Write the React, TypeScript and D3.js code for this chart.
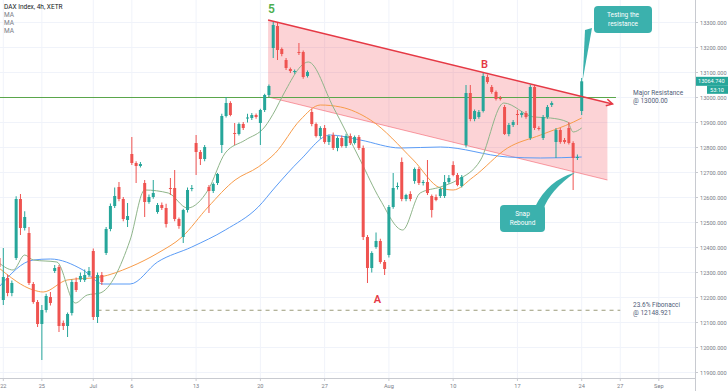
import * as d3 from "d3";

// DAX 4h candles, index 0 = first bar of Mon 22 Jun (index -1 = last bar of 19 Jun)
const open = [12358, 12190, 12278, 12218, 12358, 12594, 12478, 12458, 12254, 12182, 12094, 12150, 12202, 12306, 12322, 12098, 12086, 12138, 12262, 12272, 12270, 12290, 12386, 12122, 12290, 12378, 12474, 12566, 12642, 12594, 12510, 12774, 12738, 12726, 12658, 12582, 12602, 12542, 12570, 12558, 12638, 12638, 12514, 12442, 12550, 12634, 12818, 12782, 12754, 12642, 12626, 12658, 12810, 12926, 12978, 12858, 12854, 12894, 12916, 12918, 12930, 12898, 12950, 13010, 13198, 13286, 13194, 13150, 13114, 13102, 13182, 13182, 13086, 12942, 12894, 12846, 12878, 12822, 12850, 12798, 12838, 12806, 12846, 12818, 12842, 12798, 12442, 12318, 12402, 12426, 12342, 12370, 12562, 12642, 12742, 12594, 12614, 12666, 12714, 12658, 12662, 12606, 12602, 12606, 12606, 12662, 12730, 12690, 12646, 12810, 13018, 12914, 12922, 12946, 13082, 13042, 13022, 12998, 12962, 12854, 12890, 12934, 12930, 12938, 12838, 13042, 12878, 12838, 12922, 12970, 12822, 12870, 12830, 12878, 12818, 12758, 12946];
const high = [12375, 12398, 12292, 12268, 12605, 12614, 12545, 12482, 12262, 12190, 12170, 12215, 12222, 12330, 12330, 12108, 12140, 12272, 12280, 12300, 12312, 12322, 12396, 12300, 12302, 12482, 12576, 12640, 12662, 12602, 12578, 12842, 12745, 12742, 12670, 12612, 12670, 12578, 12580, 12575, 12678, 12710, 12520, 12555, 12640, 12650, 12850, 12790, 12810, 12650, 12660, 12698, 12935, 13002, 12985, 12898, 12900, 12902, 12935, 12938, 12936, 12955, 13015, 13052, 13302, 13300, 13200, 13158, 13120, 13112, 13218, 13188, 13108, 12955, 12900, 12885, 12890, 12852, 12860, 12845, 12848, 12855, 12856, 12848, 12850, 12808, 12450, 12385, 12460, 12435, 12350, 12570, 12698, 12660, 12760, 12615, 12625, 12720, 12722, 12670, 12750, 12612, 12612, 12640, 12690, 12690, 12745, 12698, 12690, 13050, 13050, 12952, 12950, 13100, 13092, 13050, 13028, 13006, 12970, 12898, 12910, 12950, 12945, 12946, 13052, 13050, 12885, 12930, 12970, 12985, 12878, 12878, 12838, 12902, 12825, 12772, 13078];
const low = [12310, 12170, 12205, 12205, 12350, 12450, 12468, 12250, 12175, 12082, 11950, 12140, 12168, 12298, 12062, 12070, 12042, 12128, 12222, 12262, 12262, 12282, 12110, 12098, 12250, 12370, 12465, 12558, 12585, 12505, 12482, 12730, 12658, 12720, 12522, 12575, 12595, 12535, 12550, 12480, 12610, 12505, 12475, 12418, 12540, 12625, 12690, 12730, 12745, 12538, 12618, 12650, 12778, 12920, 12925, 12810, 12848, 12870, 12900, 12910, 12915, 12810, 12942, 13002, 13158, 13150, 13165, 13110, 13098, 13095, 13170, 13075, 13080, 12885, 12840, 12835, 12815, 12810, 12790, 12785, 12800, 12798, 12810, 12812, 12790, 12430, 12258, 12300, 12395, 12335, 12290, 12360, 12555, 12632, 12585, 12585, 12585, 12655, 12650, 12648, 12610, 12520, 12585, 12598, 12598, 12655, 12685, 12645, 12640, 12800, 12905, 12905, 12915, 12940, 13055, 13015, 12988, 12988, 12850, 12845, 12882, 12890, 12920, 12915, 12830, 12870, 12868, 12830, 12915, 12962, 12758, 12815, 12815, 12812, 12630, 12750, 12930];
const close = [12322, 12282, 12218, 12258, 12594, 12478, 12522, 12258, 12182, 12094, 12150, 12206, 12178, 12318, 12086, 12086, 12134, 12262, 12230, 12286, 12290, 12306, 12122, 12290, 12262, 12474, 12566, 12606, 12594, 12514, 12526, 12738, 12726, 12734, 12582, 12602, 12618, 12570, 12558, 12494, 12636, 12514, 12486, 12550, 12630, 12638, 12782, 12754, 12802, 12626, 12654, 12694, 12926, 12978, 12930, 12854, 12894, 12878, 12920, 12930, 12922, 12950, 13010, 13046, 13290, 13190, 13174, 13118, 13106, 13106, 13180, 13082, 13102, 12894, 12846, 12878, 12822, 12846, 12798, 12838, 12806, 12846, 12818, 12842, 12798, 12442, 12318, 12378, 12426, 12342, 12314, 12562, 12638, 12646, 12594, 12610, 12594, 12714, 12658, 12662, 12618, 12550, 12590, 12634, 12662, 12678, 12690, 12650, 12682, 13018, 12914, 12946, 12942, 13086, 13062, 13022, 12994, 12994, 12854, 12890, 12902, 12930, 12938, 12922, 13042, 12878, 12874, 12922, 12962, 12978, 12870, 12822, 12822, 12818, 12758, 12762, 13064.74];
const firstIndex = -1;

// moving averages as [bar index, price]
const maFast = [[-1, 12338], [2.3, 12310], [5, 12370], [7, 12350], [12.5, 12342], [16.8, 12178], [19.6, 12210], [22.6, 12218], [29.6, 12430], [33, 12630], [38.5, 12618], [43, 12558], [47.8, 12630], [51.8, 12778], [56.5, 12830], [61, 12882], [63.5, 12950], [65.3, 13010], [71.2, 13142], [77, 12962], [83.3, 12750], [88, 12590], [93.2, 12470], [97.3, 12618], [102, 12642], [106, 12670], [111.4, 12750], [116.8, 12978], [123.8, 12922], [127.7, 12918], [131.7, 12902], [133, 12862], [135, 12878]];
const maMid = [[-1, 12318], [7, 12230], [9.3, 12222], [14.9, 12270], [22.6, 12282], [29.6, 12322], [36.1, 12378], [41.7, 12442], [47.8, 12562], [54.1, 12670], [59.5, 12722], [63.5, 12778], [69.3, 12910], [74, 12970], [78.7, 12962], [85.7, 12910], [95.7, 12750], [102, 12638], [105, 12630], [109.7, 12682], [117.7, 12798], [125.4, 12850], [133.1, 12902], [135, 12918]];
const maSlow = [[-1, 12242], [7, 12350], [11, 12354], [18.6, 12310], [23.3, 12254], [29.6, 12254], [36, 12342], [44, 12402], [51.8, 12470], [59.5, 12562], [63.5, 12642], [69.3, 12750], [76.3, 12850], [83.3, 12830], [92.7, 12798], [102, 12802], [117.7, 12762], [125.4, 12758], [135, 12762]];

// channel drawn on the chart, [bar index, price]
const channelTop = [[61.8, 13310], [142.2, 12974]];
const channelBottom = [[61.8, 13002], [141, 12670]];

const resistance = 13000;
const fib = 12148.921;
const lastPrice = 13064.74;

const yTicks = d3.range(11900, 13301, 100);
const xTickIdx = [0, 9, 21, 30, 45, 60, 75, 90, 105, 120, 135, 144, 153];
const xTickLabels = ["22", "25", "Jul", "6", "13", "20", "27", "Aug", "10", "17", "24", "27", "Sep"];

const W = 728;
const H = 391;
const plotRight = 695;
const plotBottom = 378;
const FONT = "Roboto, 'Open Sans', sans-serif";
const UP = "#26a69a";
const DOWN = "#ef5350";
const TEAL = "#3bb1ad";

export default function App() {
  const x = d3.scaleLinear().domain([0, 135]).range([3.3, 581.7]);
  const y = d3.scaleLinear().domain([13000, 11900]).range([97.5, 372.5]);
  const bw = 3;

  const maLine = d3
    .line<number[]>()
    .x((d) => x(d[0]))
    .y((d) => y(d[1]))
    .curve(d3.curveMonotoneX);

  const candles = open.map((o, i) => ({
    i: i + firstIndex,
    o,
    h: high[i],
    l: low[i],
    c: close[i],
  }));

  // top edge of the shaded channel, evaluated where the shading stops
  const topAt = (i: number) =>
    channelTop[0][1] +
    ((channelTop[1][1] - channelTop[0][1]) * (i - channelTop[0][0])) / (channelTop[1][0] - channelTop[0][0]);

  const chPoly = [
    [x(channelTop[0][0]), y(channelTop[0][1])],
    [x(channelBottom[1][0]), y(topAt(channelBottom[1][0]))],
    [x(channelBottom[1][0]), y(channelBottom[1][1])],
    [x(channelBottom[0][0]), y(channelBottom[0][1])],
  ];

  const tx1 = x(channelTop[1][0]);
  const ty1 = y(channelTop[1][1]);
  const ang = Math.atan2(ty1 - y(channelTop[0][1]), tx1 - x(channelTop[0][0]));

  return (
    <>
      <style>{`body{margin:0;background:#fff}`}</style>
      <svg width={W} height={H} style={{ display: "block", fontFamily: FONT }}>
        <rect width={W} height={H} fill="#fff" />
        {/* grid */}
        {yTicks.map((t) => (
          <line key={"gy" + t} x1={0} x2={plotRight} y1={y(t)} y2={y(t)} stroke="#f0f3fa" />
        ))}
        {xTickIdx.map((t) => (
          <line key={"gx" + t} x1={x(t)} x2={x(t)} y1={0} y2={plotBottom} stroke="#f0f3fa" />
        ))}

        {/* channel */}
        <polygon points={chPoly.map((p) => p.join(",")).join(" ")} fill="rgba(242,54,69,0.22)" />
        <line
          x1={x(channelBottom[0][0])}
          y1={y(channelBottom[0][1])}
          x2={x(channelBottom[1][0])}
          y2={y(channelBottom[1][1])}
          stroke="rgba(242,54,69,0.45)"
          strokeWidth={1}
        />

        {/* fib & resistance */}
        <line x1={x(22)} x2={x(144)} y1={y(fib)} y2={y(fib)} stroke="#9a9a7a" strokeWidth={1.2} strokeDasharray="4 4" />
        <line x1={0} x2={x(143)} y1={y(resistance)} y2={y(resistance)} stroke="#5aa64b" strokeWidth={1.2} />

        {/* moving averages */}
        <path d={maLine(maSlow) ?? ""} fill="none" stroke="#5b9cf6" strokeWidth={1} />
        <path d={maLine(maMid) ?? ""} fill="none" stroke="#f89c4a" strokeWidth={1} />
        <path d={maLine(maFast) ?? ""} fill="none" stroke="#8fb58a" strokeWidth={1} />

        {/* candles */}
        {candles.map((d) => {
          const col = d.c >= d.o ? UP : DOWN;
          const cx = x(d.i);
          const top = y(Math.max(d.o, d.c));
          const bot = y(Math.min(d.o, d.c));
          return (
            <g key={d.i}>
              <line x1={cx} x2={cx} y1={y(d.h)} y2={y(d.l)} stroke={col} strokeWidth={1} />
              <rect x={cx - bw / 2} y={top} width={bw} height={Math.max(1, bot - top)} fill={col} />
            </g>
          );
        })}

        {/* channel top line with arrow */}
        <line x1={x(channelTop[0][0])} y1={y(channelTop[0][1])} x2={tx1} y2={ty1} stroke="#e53945" strokeWidth={1.5} />
        <path
          d={`M${tx1 - 7 * Math.cos(ang - 0.5)},${ty1 - 7 * Math.sin(ang - 0.5)} L${tx1},${ty1} L${tx1 - 7 * Math.cos(ang + 0.5)},${ty1 - 7 * Math.sin(ang + 0.5)}`}
          fill="none"
          stroke="#e53945"
          strokeWidth={1.5}
        />

        {/* wave labels */}
        <text x={x(62.6)} y={y(13340)} fill="#4caf50" fontSize={12} fontWeight={600} textAnchor="middle">5</text>
        <text x={x(112.3)} y={y(13118)} fill="#e53945" fontSize={11} fontWeight={600} textAnchor="middle">B</text>
        <text x={x(87.3)} y={y(12180)} fill="#e53945" fontSize={11} fontWeight={600} textAnchor="middle">A</text>

        {/* right labels */}
        <text x={633} y={y(resistance) - 3} fill="#4f5d78" fontSize={6.5}>Major Resistance</text>
        <text x={633} y={y(resistance) + 5} fill="#4f5d78" fontSize={6.5}>@ 13000.00</text>
        <text x={633} y={y(fib) - 3} fill="#4f5d78" fontSize={6.5}>23.6% Fibonacci</text>
        <text x={633} y={y(fib) + 5} fill="#4f5d78" fontSize={6.5}>@ 12148.921</text>

        {/* callouts */}
        <path d={`M585,30 L${x(135) + 1},${y(13070)} L592,28 Z`} fill={TEAL} />
        <rect x={594} y={6} width={58} height={27} rx={4} fill={TEAL} />
        <text x={623} y={17} fill="#fff" fontSize={6.5} textAnchor="middle">Testing the</text>
        <text x={623} y={26} fill="#fff" fontSize={6.5} textAnchor="middle">resistance</text>

        <path d={`M535,207 Q548,180 ${x(133.5)},${y(12700)} Q550,190 543,210 Z`} fill={TEAL} />
        <rect x={500} y={205} width={45} height={27} rx={4} fill={TEAL} />
        <text x={522.5} y={216} fill="#fff" fontSize={6.5} textAnchor="middle">Snap</text>
        <text x={522.5} y={225} fill="#fff" fontSize={6.5} textAnchor="middle">Rebound</text>

        {/* legend */}
        <text x={4} y={9} fill="#131722" fontSize={6.5}>DAX Index, 4h, XETR</text>
        <text x={4} y={17} fill="#787b86" fontSize={6.5}>MA</text>
        <text x={4} y={25} fill="#787b86" fontSize={6.5}>MA</text>
        <text x={4} y={33} fill="#787b86" fontSize={6.5}>MA</text>

        {/* axes */}
        <line x1={plotRight + 0.5} x2={plotRight + 0.5} y1={0} y2={H} stroke="#c8cad0" />
        <line x1={0} x2={plotRight} y1={plotBottom + 0.5} y2={plotBottom + 0.5} stroke="#c8cad0" />
        {yTicks.map((t) => (
          <g key={"yt" + t}>
            <line x1={plotRight} x2={plotRight + 3} y1={y(t)} y2={y(t)} stroke="#c8cad0" />
            <text x={700} y={y(t) + 2} fill="#787b86" fontSize={5.6}>
              {t.toFixed(3)}
            </text>
          </g>
        ))}
        {xTickIdx.map((t, k) => (
          <g key={"xt" + t}>
            <line x1={x(t)} x2={x(t)} y1={plotBottom} y2={plotBottom + 3} stroke="#c8cad0" />
            <text x={x(t)} y={388} fill="#787b86" fontSize={5.6} textAnchor="middle">
              {xTickLabels[k]}
            </text>
          </g>
        ))}
        <rect x={696} y={y(lastPrice) - 4.5} width={32} height={9} fill={UP} />
        <text x={698} y={y(lastPrice) + 2} fill="#fff" fontSize={5.6}>{lastPrice.toFixed(3)}</text>
        <rect x={707} y={y(lastPrice) + 4.5} width={21} height={8} fill={UP} />
        <text x={710} y={y(lastPrice) + 10.5} fill="#fff" fontSize={5.6}>53:10</text>
      </svg>
    </>
  );
}
